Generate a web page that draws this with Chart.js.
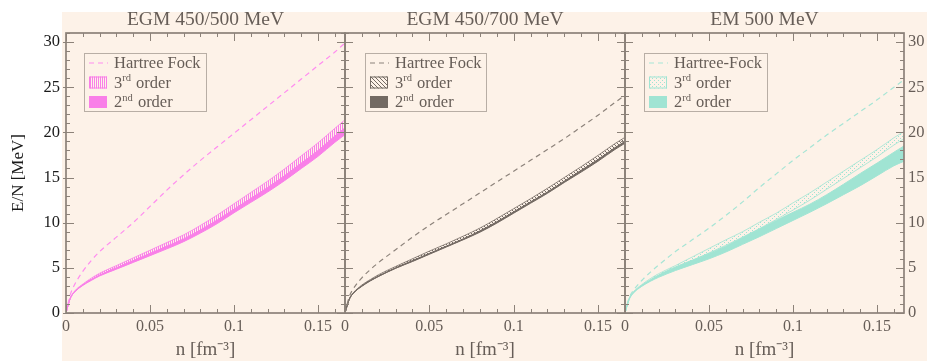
<!DOCTYPE html>
<html>
<head>
<meta charset="utf-8">
<script src="https://cdn.jsdelivr.net/npm/chart.js@4.4.0/dist/chart.umd.min.js"></script>
<style>
  body { margin: 0; background: #fff; width: 927px; height: 361px; overflow: hidden; position: relative; }
  #bg { position: absolute; left: 62px; top: 12px; width: 865px; height: 349px; background: #fdf2e8; }
  canvas { position: absolute; top: 0; }
</style>
</head>
<body>
<div id="bg"></div>
<canvas id="egm500" width="360" height="361" style="left:0px"></canvas>
<canvas id="egm700" width="310" height="361" style="left:330px"></canvas>
<canvas id="em500" width="317" height="361" style="left:610px"></canvas>
<script>
// density grid (fm^-3)
const dens = [0, 0.0025, 0.005, 0.01, 0.015, 0.02, 0.03, 0.04, 0.05, 0.06, 0.07, 0.08, 0.09, 0.1, 0.11, 0.12, 0.13, 0.14, 0.15, 0.16, 0.166];

// EGM 450/500 MeV
const hf500 = [0, 2.0, 3.1, 4.6, 5.8, 6.8, 8.4, 10.0, 11.8, 13.6, 15.3, 16.9, 18.4, 19.9, 21.4, 22.9, 24.4, 25.9, 27.4, 28.9, 29.9];
const third500Lo = [0, 1.6, 2.3, 3.1, 3.7, 4.2, 5.0, 5.8, 6.55, 7.35, 8.15, 9.15, 10.25, 11.45, 12.65, 13.85, 15.15, 16.55, 17.95, 19.55, 20.45];
const third500Hi = [0, 1.65, 2.4, 3.2, 3.85, 4.4, 5.25, 6.1, 6.95, 7.8, 8.65, 9.7, 10.85, 12.1, 13.35, 14.6, 15.95, 17.4, 18.85, 20.45, 21.4];
const second500Lo = [0, 1.6, 2.3, 3.05, 3.6, 4.1, 4.85, 5.6, 6.35, 7.1, 7.9, 8.85, 9.9, 11.1, 12.25, 13.4, 14.65, 16.0, 17.35, 18.9, 19.75];
const second500Hi = [0, 1.6, 2.3, 3.1, 3.7, 4.2, 5.0, 5.8, 6.6, 7.4, 8.2, 9.2, 10.3, 11.5, 12.7, 13.9, 15.2, 16.6, 18.0, 19.6, 20.5];

// EGM 450/700 MeV
const hf700 = [0, 1.8, 2.7, 3.9, 4.8, 5.6, 7.0, 8.4, 9.7, 10.9, 12.1, 13.3, 14.5, 15.7, 16.9, 18.1, 19.3, 20.6, 21.9, 23.3, 24.1];
const third700Lo = [0, 1.5, 2.2, 3.0, 3.6, 4.1, 4.95, 5.75, 6.55, 7.35, 8.15, 9.05, 10.05, 11.15, 12.25, 13.35, 14.55, 15.75, 16.95, 18.25, 18.95];
const third700Hi = [0, 1.55, 2.25, 3.1, 3.7, 4.25, 5.15, 6.0, 6.85, 7.65, 8.5, 9.4, 10.45, 11.55, 12.65, 13.8, 15.0, 16.2, 17.45, 18.75, 19.45];
const second700Lo = [0, 1.5, 2.2, 2.95, 3.55, 4.05, 4.95, 5.7, 6.5, 7.3, 8.1, 8.95, 9.95, 11.05, 12.15, 13.25, 14.45, 15.6, 16.8, 18.1, 18.8];
const second700Hi = [0, 1.5, 2.2, 3.0, 3.6, 4.1, 5.0, 5.8, 6.6, 7.4, 8.2, 9.1, 10.1, 11.2, 12.3, 13.4, 14.6, 15.8, 17.0, 18.3, 19.0];

// EM 500 MeV
const hfEM = [0, 1.7, 2.5, 3.6, 4.5, 5.3, 6.8, 8.1, 9.4, 10.8, 12.3, 13.9, 15.4, 16.9, 18.3, 19.7, 21.0, 22.3, 23.6, 25.0, 25.8];
const thirdEMLo = [0, 1.6, 2.3, 3.05, 3.65, 4.15, 4.95, 5.8, 6.65, 7.5, 8.4, 9.35, 10.35, 11.4, 12.5, 13.7, 14.9, 16.1, 17.3, 18.6, 19.3];
const thirdEMHi = [0, 1.65, 2.35, 3.15, 3.8, 4.35, 5.25, 6.2, 7.15, 8.1, 9.0, 10.05, 11.05, 12.2, 13.3, 14.5, 15.7, 16.9, 18.1, 19.4, 20.1];
const secondEMLo = [0, 1.5, 2.2, 2.95, 3.5, 3.95, 4.7, 5.35, 6.0, 6.75, 7.6, 8.45, 9.35, 10.25, 11.15, 12.1, 13.1, 14.1, 15.2, 16.3, 16.8];
const secondEMHi = [0, 1.55, 2.25, 3.05, 3.65, 4.2, 5.1, 5.85, 6.6, 7.4, 8.35, 9.3, 10.25, 11.15, 12.05, 13.1, 14.25, 15.45, 16.6, 17.8, 18.5];

// tick labels
const xTicks = [0, 0.05, 0.1, 0.15];
const yTicks = [0, 5, 10, 15, 20, 25, 30];

const serif = "'Liberation Serif', 'Times New Roman', serif";
const textGray = '#665d57';
const axisColor = '#8c8279';
Chart.defaults.font.family = serif;

// fill patterns for the 3rd order bands
function makePattern(color, kind) {
  const c = document.createElement('canvas');
  c.width = 4; c.height = 4;
  const g = c.getContext('2d');
  g.fillStyle = color;
  if (kind === 'vert') { g.fillRect(0, 0, 1, 4); g.fillRect(2, 0, 1, 4); }
  if (kind === 'diag') { for (let i = 0; i < 4; i++) g.fillRect(i, i, 1, 1); }
  if (kind === 'dots') { g.fillRect(0, 0, 1, 1); g.fillRect(2, 2, 1, 1); }
  return g.createPattern(c, 'repeat');
}

const pts = (ys) => dens.map((n, i) => ({ x: n, y: ys[i] }));

// frame with inward ticks on all four sides
const framePlugin = {
  id: 'frame',
  afterDraw(chart) {
    const { ctx, chartArea: a, scales: { x, y } } = chart;
    ctx.save();
    ctx.strokeStyle = axisColor;
    ctx.lineWidth = 1;
    ctx.beginPath();
    for (let k = 0; k <= 16; k++) {
      const px = Math.round(x.getPixelForValue(k / 100)) + 0.5;
      const len = k % 5 === 0 ? 8 : 4;
      ctx.moveTo(px, a.bottom); ctx.lineTo(px, a.bottom - len);
      ctx.moveTo(px, a.top); ctx.lineTo(px, a.top + len);
    }
    for (let k = 0; k <= 31; k++) {
      const py = Math.round(y.getPixelForValue(k)) + 0.5;
      const len = k % 5 === 0 ? 8 : 4;
      const out = k % 5 === 0 ? 3 : 0;
      ctx.moveTo(a.left - out, py); ctx.lineTo(a.left + len, py);
      ctx.moveTo(a.right, py); ctx.lineTo(a.right - len, py);
    }
    ctx.stroke();
    ctx.lineWidth = 1.7;
    ctx.strokeRect(a.left, a.top, a.right - a.left, a.bottom - a.top);
    ctx.restore();
  }
};

function drawLabel(ctx, text, x, y) {
  const m = text.match(/^(\d)(st|nd|rd|th)(.*)$/);
  ctx.font = '16.5px ' + serif;
  if (!m) { ctx.fillText(text, x, y); return; }
  ctx.fillText(m[1], x, y);
  let w = ctx.measureText(m[1]).width;
  ctx.font = '10.5px ' + serif;
  ctx.fillText(m[2], x + w, y - 5);
  w += ctx.measureText(m[2]).width + 1;
  ctx.font = '16.5px ' + serif;
  ctx.fillText(m[3], x + w, y);
}

// legend box inside the plot
const boxLegendPlugin = {
  id: 'boxLegend',
  afterDraw(chart, args, opts) {
    const { ctx, chartArea: a } = chart;
    const bx = a.left + opts.dx, by = a.top + 20, bw = opts.w, bh = 58;
    ctx.save();
    ctx.strokeStyle = '#b8aea5';
    ctx.lineWidth = 1;
    ctx.strokeRect(bx + 0.5, by + 0.5, bw, bh);
    const items = chart.data.datasets.filter(d => d.legendKind);
    items.forEach((d, i) => {
      const cy = by + 10 + i * 19.5;
      const sx = bx + 5;
      if (d.legendKind === 'line') {
        ctx.strokeStyle = d.borderColor;
        ctx.lineWidth = 1.2;
        ctx.setLineDash(d.borderDash);
        ctx.beginPath(); ctx.moveTo(sx, cy); ctx.lineTo(sx + 19, cy); ctx.stroke();
        ctx.setLineDash([]);
      } else {
        ctx.fillStyle = d.backgroundColor;
        ctx.fillRect(sx, cy - 6, 18, 12);
        ctx.strokeStyle = d.borderColor;
        ctx.lineWidth = 1;
        ctx.strokeRect(sx + 0.5, cy - 5.5, 17, 11);
      }
      ctx.fillStyle = textGray;
      ctx.textBaseline = 'middle';
      ctx.textAlign = 'left';
      drawLabel(ctx, d.label, bx + 30, cy + 1);
    });
    ctx.restore();
  }
};

function makePanel(id, p) {
  const yAxis = { min: 0, max: 31, display: p.yPos !== null, position: p.yPos || 'left',
    grid: { display: false, drawTicks: false }, border: { display: false },
    afterBuildTicks: s => { s.ticks = yTicks.map(v => ({ value: v })); },
    ticks: { color: p.yColor, font: { size: 16.5 }, padding: p.yPos === 'right' ? 4 : 6 },
    title: { display: !!p.yTitle, text: p.yTitle, color: '#1a1a1a', font: { size: 17 }, padding: { top: 8, bottom: 4 } }
  };
  if (p.yWidth) yAxis.afterFit = s => { s.width = p.yWidth; };

  return new Chart(document.getElementById(id), {
    type: 'line',
    data: {
      datasets: [
        { label: p.hfLabel, data: pts(p.hf), borderColor: p.hfColor, borderDash: [5, 4], borderWidth: 1.2, legendKind: 'line' },
        { label: 'lo3', data: pts(p.lo3), borderColor: p.color, borderWidth: 0.8 },
        { label: '3rd order', data: pts(p.hi3), borderColor: p.color, borderWidth: 0.8, fill: '-1', backgroundColor: p.pattern, legendKind: 'fill' },
        { label: 'lo2', data: pts(p.lo2), borderColor: p.color, borderWidth: 1 },
        { label: p.secondLabel, data: pts(p.hi2), borderColor: p.color, borderWidth: 1, fill: '-1', backgroundColor: p.color, legendKind: 'fill' }
      ]
    },
    options: {
      responsive: false,
      animation: false,
      devicePixelRatio: 1,
      layout: { padding: p.pad },
      elements: { point: { radius: 0 }, line: { cubicInterpolationMode: 'monotone' } },
      plugins: {
        legend: { display: false },
        tooltip: { enabled: false },
        title: { display: true, fullSize: false, text: p.title, color: textGray, font: { size: 19.5, weight: 'normal' }, padding: { top: 8, bottom: 1.6 } },
        boxLegend: { dx: p.legendDx, w: p.legendW }
      },
      scales: {
        x: { type: 'linear', min: 0, max: 0.166,
          grid: { display: false, drawTicks: false }, border: { display: false },
          afterBuildTicks: s => { s.ticks = xTicks.map(v => ({ value: v })); },
          afterFit: s => { s.height = 48; },
          ticks: { color: textGray, font: { size: 16 }, padding: 4, autoSkip: false, maxRotation: 0, callback: v => String(v) },
          title: { display: true, text: 'n [fm\u207B\u00B3]', color: textGray, font: { size: 19 }, padding: { top: 0, bottom: 0 } }
        },
        y: yAxis
      }
    },
    plugins: [framePlugin, boxLegendPlugin]
  });
}

const pink = '#f97fe8', gray = '#736a63', teal = '#a0e4d3';

makePanel('egm500', {
  title: 'EGM 450/500 MeV', hfLabel: 'Hartree Fock', secondLabel: '2nd order',
  hf: hf500, lo3: third500Lo, hi3: third500Hi, lo2: second500Lo, hi2: second500Hi,
  color: pink, hfColor: '#ff8cf0', pattern: makePattern(pink, 'vert'),
  pad: { left: 0, right: 15 }, yPos: 'left', yWidth: 66, yColor: '#1a1a1a', yTitle: 'E/N [MeV]',
  legendDx: 18, legendW: 122
});

makePanel('egm700', {
  title: 'EGM 450/700 MeV', hfLabel: 'Hartree Fock', secondLabel: '2nd order',
  hf: hf700, lo3: third700Lo, hi3: third700Hi, lo2: second700Lo, hi2: second700Hi,
  color: gray, hfColor: '#8c827a', pattern: makePattern(gray, 'diag'),
  pad: { left: 15, right: 15 }, yPos: null, yColor: textGray,
  legendDx: 20, legendW: 121
});

makePanel('em500', {
  title: 'EM 500 MeV', hfLabel: 'Hartree-Fock', secondLabel: '2rd order',
  hf: hfEM, lo3: thirdEMLo, hi3: thirdEMHi, lo2: secondEMLo, hi2: secondEMHi,
  color: teal, hfColor: '#a6e5d5', pattern: makePattern(teal, 'dots'),
  pad: { left: 15, right: 0 }, yPos: 'right', yWidth: 23, yColor: textGray,
  legendDx: 19, legendW: 123
});
</script>
</body>
</html>
